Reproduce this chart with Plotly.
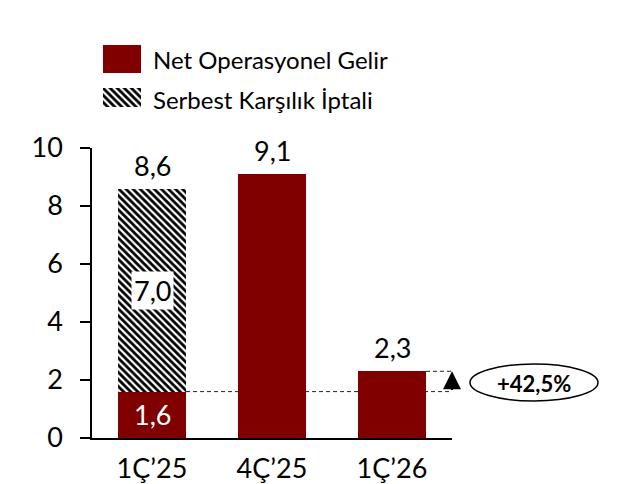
import plotly.graph_objects as go

categories = ["1Ç’25", "4Ç’25", "1Ç’26"]
net_operasyonel = [1.6, 9.1, 2.3]
serbest_karsilik = [7.0, 0.0, 0.0]
growth_label = "+42,5%"
legend_names = ["Net Operasyonel Gelir", "Serbest Karşılık İptali"]
y_ticks = [0, 2, 4, 6, 8, 10]

RED = "#800000"
FONT = "Lato, Carlito, sans-serif"
# the page body has an 8px margin, so the figure is drawn 8px smaller and positions are shifted
OFF = 8
W, H = 623 - OFF, 484 - OFF

def fmt(v):
    return f"{v:.1f}".replace(".", ",")

def px_x(p):
    return (p - OFF) / W

def px_y(p):
    return (H - (p - OFF)) / H

totals = [a + b for a, b in zip(net_operasyonel, serbest_karsilik)]
BW = 0.567
HATCH = dict(shape="\\", fgcolor="black", bgcolor="white", size=5, solidity=0.55)

fig = go.Figure()
fig.add_trace(go.Bar(x=categories, y=net_operasyonel, marker=dict(color=RED, line=dict(width=0)),
                     width=BW, name=legend_names[0], showlegend=False, hoverinfo="skip"))
fig.add_trace(go.Bar(x=categories, y=serbest_karsilik, marker=dict(color="white", line=dict(width=0), pattern=HATCH),
                     width=BW, name=legend_names[1], showlegend=False, hoverinfo="skip"))

# legend swatches on small auxiliary axes
fig.add_trace(go.Bar(x=[0], y=[1], width=1, marker=dict(color=RED, line=dict(width=0)),
                     xaxis="x2", yaxis="y2", showlegend=False, hoverinfo="skip"))
fig.add_trace(go.Bar(x=[0], y=[1], width=1, marker=dict(color="white", line=dict(width=0), pattern=HATCH),
                     xaxis="x3", yaxis="y3", showlegend=False, hoverinfo="skip"))

NUMSIZE = 27
annotations = []
for c, t in zip(categories, totals):
    annotations.append(dict(x=c, y=t, text=fmt(t), showarrow=False, yanchor="bottom", yshift=5,
                            font=dict(size=NUMSIZE, color="black", family=FONT)))
annotations.append(dict(x=categories[0], y=net_operasyonel[0] / 2, text=fmt(net_operasyonel[0]), showarrow=False,
                        font=dict(size=NUMSIZE, color="white", family=FONT)))
annotations.append(dict(x=categories[0], y=net_operasyonel[0] + serbest_karsilik[0] / 2, text=fmt(serbest_karsilik[0]),
                        showarrow=False, bgcolor="white", borderpad=2, font=dict(size=NUMSIZE, color="black", family=FONT)))
# arrow
annotations.append(dict(x=2.5, y=net_operasyonel[2], ax=2.5, ay=net_operasyonel[0], xref="x", yref="y",
                        axref="x", ayref="y", showarrow=True, arrowhead=2, arrowsize=1.8, arrowwidth=2,
                        arrowcolor="black", text=""))
annotations.append(dict(x=px_x(534), y=px_y(383), xref="paper", yref="paper", text="<b>" + growth_label + "</b>",
                        xanchor="center", yanchor="middle", showarrow=False,
                        font=dict(size=22, color="black", family=FONT)))
# legend texts
annotations.append(dict(x=px_x(151), y=px_y(60), xref="paper", yref="paper", text=legend_names[0],
                        xanchor="left", yanchor="middle", showarrow=False,
                        font=dict(size=24, color="black", family=FONT)))
annotations.append(dict(x=px_x(151), y=px_y(100), xref="paper", yref="paper", text=legend_names[1],
                        xanchor="left", yanchor="middle", showarrow=False,
                        font=dict(size=24, color="black", family=FONT)))

DASH = dict(color="#222222", width=1, dash="4px,3px")
shapes = [
    dict(type="line", xref="x", yref="y", x0=BW / 2, x1=2.55, y0=net_operasyonel[0], y1=net_operasyonel[0],
         line=DASH, layer="below"),
    dict(type="line", xref="x", yref="y", x0=2 + BW / 2, x1=2.55, y0=net_operasyonel[2], y1=net_operasyonel[2],
         line=DASH, layer="below"),
    dict(type="circle", xref="paper", yref="paper", x0=px_x(470), x1=px_x(598), y0=px_y(401), y1=px_y(364),
         line=dict(color="black", width=1.5), fillcolor="rgba(0,0,0,0)"),
]

fig.update_layout(
    template=None,
    width=W, height=H, margin=dict(l=0, r=0, t=0, b=0, pad=0), autosize=False,
    paper_bgcolor="white", plot_bgcolor="white",
    barmode="stack", bargap=0, showlegend=False,
    font=dict(family=FONT, color="black"),
    annotations=annotations, shapes=shapes,
    xaxis=dict(domain=[px_x(92), px_x(452)], range=[-0.5, 2.5], showline=True, linecolor="black", linewidth=1.5,
               ticks="", showgrid=False, tickfont=dict(size=NUMSIZE, family=FONT, color="black"),
               ticklabelstandoff=6, fixedrange=True, automargin=False),
    yaxis=dict(domain=[px_y(438), px_y(148)], range=[0, 10], tickvals=y_ticks, showline=True, linecolor="black",
               linewidth=1.5, ticks="outside", ticklen=10, tickwidth=1.5, tickcolor="black", showgrid=False,
               zeroline=False, tickfont=dict(size=NUMSIZE, family=FONT, color="black"), ticklabelstandoff=12,
               fixedrange=True, automargin=False),
    xaxis2=dict(domain=[px_x(103), px_x(141)], range=[-0.5, 0.5], visible=False, anchor="y2", fixedrange=True,
                automargin=False),
    yaxis2=dict(domain=[px_y(73), px_y(45)], range=[0, 1], visible=False, anchor="x2", fixedrange=True,
                automargin=False),
    xaxis3=dict(domain=[px_x(103), px_x(141)], range=[-0.5, 0.5], visible=False, anchor="y3", fixedrange=True,
                automargin=False),
    yaxis3=dict(domain=[px_y(107), px_y(88)], range=[0, 1], visible=False, anchor="x3", fixedrange=True,
                automargin=False),
)

fig.write_html("out.html")
